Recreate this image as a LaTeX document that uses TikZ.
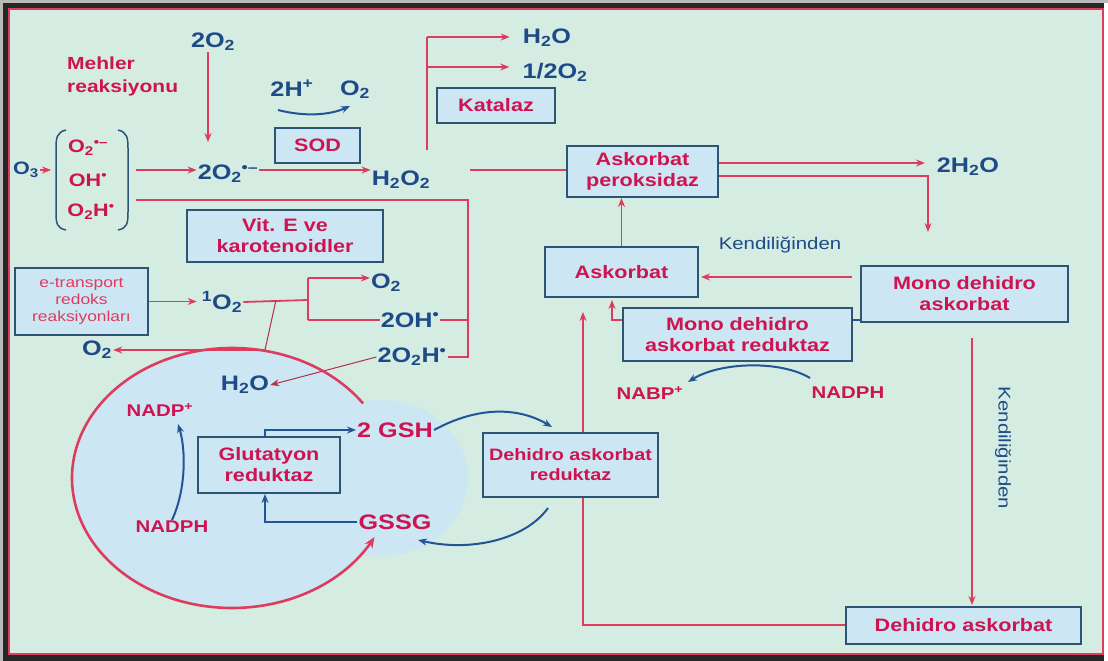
\documentclass[tikz,border=0pt]{standalone}
\usepackage{fontspec}
\setmainfont{Liberation Sans}[FakeStretch=1.2]
\usetikzlibrary{arrows.meta}
\newcommand\myfs[2]{\fontsize{#1}{#2}\selectfont}
\definecolor{bgc}{RGB}{212,236,226}
\definecolor{bfill}{RGB}{205,230,243}
\definecolor{bdraw}{RGB}{45,85,115}
\definecolor{tred}{RGB}{205,20,80}
\definecolor{lred}{RGB}{222,60,95}
\definecolor{tblue}{RGB}{30,75,135}
\definecolor{ablue}{RGB}{35,85,150}
\pgfdeclarelayer{back}
\pgfdeclarelayer{mid}
\pgfsetlayers{back,mid,main}
\begin{document}
\begin{tikzpicture}[x=1pt,y=-1pt,
  box/.style={draw=bdraw, line width=2pt, fill=bfill, text=tred, font=\bfseries\myfs{18}{21}, align=center, inner sep=0pt},
  fml/.style={text=tblue, font=\bfseries\myfs{21}{24}, inner sep=1pt},
  rlab/.style={text=tred, font=\bfseries\myfs{17}{20}, inner sep=1pt},
  rl/.style={draw=lred, line width=1.8pt},
  ra/.style={rl, -{Stealth[length=9pt,width=7pt]}},
  bl/.style={draw=ablue, line width=2pt},
  ba/.style={bl, -{Stealth[length=9pt,width=7pt]}},
  thinl/.style={draw=lred!80!black, line width=1pt},
  kend/.style={text=tblue, font=\myfs{17}{20}, inner sep=1pt}
]
\useasboundingbox (0,0) rectangle (1108,661);
\begin{pgfonlayer}{back}
\fill[white] (0,0) rectangle (1108,661);
\fill[black!85] (3,3) rectangle (1104,661);
\fill[gray!55] (0,0) rectangle (1108,3);
\fill[gray!55] (0,0) rectangle (3,661);
\fill[bgc] (9,9) rectangle (1103,654);
\draw[lred, line width=2pt] (9,9) rectangle (1103,654);
\fill[bfill] (380,478) ellipse [x radius=88, y radius=78];
\fill[bfill] (232,478) ellipse [x radius=160, y radius=130];
\end{pgfonlayer}

% ---- nodes ----
\node[fml] (o2top) at (213,42) {2O\textsubscript{2}};
\node[rlab, anchor=west, align=left, font=\bfseries\myfs{17.5}{23}] (mehler) at (66,76) {Mehler\\reaksiyonu};
\node[fml] (hplus) at (292,88) {2H\textsuperscript{+}};
\node[fml] (o2sod) at (355,90) {O\textsubscript{2}};
\node[box, minimum width=85, minimum height=35] (sod) at (317.5,145.5) {SOD};
\node[fml, font=\bfseries\myfs{18}{20}] (o3) at (26,170) {O\textsubscript{3}};
\node[rlab, font=\bfseries\myfs{18}{20}] (rad1) at (88,148) {O\textsubscript{2}\textsuperscript{•–}};
\node[rlab, font=\bfseries\myfs{18}{20}] (rad2) at (88,180) {OH\textsuperscript{•}};
\node[rlab, font=\bfseries\myfs{18}{20}] (rad3) at (91,212) {O\textsubscript{2}H\textsuperscript{•}};
\node[fml] (o2rad) at (228,174) {2O\textsubscript{2}\textsuperscript{•–}};
\node[fml] (h2o2) at (401,180) {H\textsubscript{2}O\textsubscript{2}};
\node[fml] (h2oA) at (547,38) {H\textsubscript{2}O};
\node[fml] (halfo2) at (555,72) {1/2O\textsubscript{2}};
\node[box, minimum width=118, minimum height=35] (kat) at (496,105.5) {Katalaz};
\node[box, minimum width=151, minimum height=51] (apx) at (642.5,171.5) {Askorbat\\peroksidaz};
\node[fml] (h2oB) at (968,167) {2H\textsubscript{2}O};
\node[box, minimum width=153, minimum height=50] (asc) at (621.5,272) {Askorbat};
\node[kend] (kend1) at (780,245) {Kendiliğinden};
\node[box, minimum width=207, minimum height=56] (mda) at (964.5,294) {Mono dehidro\\askorbat};
\node[box, minimum width=229, minimum height=53] (mdar) at (737.5,334.5) {Mono dehidro\\askorbat reduktaz};
\node[rlab] (nabp) at (650,393) {NABP\textsuperscript{+}};
\node[rlab] (nadph1) at (848,393) {NADPH};
\node[kend, rotate=-90] (kend2) at (1003,448) {Kendiliğinden};
\node[box, minimum width=235, minimum height=37] (dha) at (963.5,625) {Dehidro askorbat};
\node[box, minimum width=175, minimum height=64, font=\bfseries\myfs{16.5}{20}] (dhar) at (570.5,465) {Dehidro askorbat\\reduktaz};
\node[box, minimum width=196, minimum height=52] (vite) at (285,236) {Vit. E ve\\karotenoidler};
\node[box, minimum width=133, minimum height=67, text=lred, font=\myfs{14.5}{17}] (etr) at (81.5,301.5) {e-transport\\redoks\\reaksiyonları};
\node[fml] (o2sing) at (222,302) {\textsuperscript{1}O\textsubscript{2}};
\node[fml] (o2b) at (386,283) {O\textsubscript{2}};
\node[fml] (oh) at (410,320) {2OH\textsuperscript{•}};
\node[fml] (o2h) at (412,357) {2O\textsubscript{2}H\textsuperscript{•}};
\node[fml] (o2c) at (97,350) {O\textsubscript{2}};
\node[fml] (h2oC) at (245,385) {H\textsubscript{2}O};
\node[rlab] (nadp) at (160,410) {NADP\textsuperscript{+}};
\node[rlab] (nadph2) at (172,527) {NADPH};
\node[box, minimum width=142, minimum height=56] (gr) at (269,465) {Glutatyon\\reduktaz};
\node[rlab, font=\bfseries\myfs{21}{24}] (gsh) at (395,430) {2 GSH};
\node[rlab, font=\bfseries\myfs{21}{24}] (gssg) at (395,522) {GSSG};

% named free ends / bends
\coordinate (brk) at (136,170);
\coordinate (brk2) at (136,200);
\coordinate (bendA) at (468,200);
\coordinate (bendB) at (468,357);
\coordinate (katA) at (427,150);
\coordinate (katB) at (427,37);
\coordinate (katC) at (427,67);
\coordinate (h2o2r) at (470,170);
\coordinate (apA) at (718,163);
\coordinate (apB) at (718,176);
\coordinate (apC) at (928,176);
\coordinate (apD) at (928,232);
\coordinate (apE) at (925,163);
\coordinate (spl) at (308,300);
\coordinate (splT) at (308,278);
\coordinate (splB) at (308,320);
\coordinate (circTop) at (265,350);
\coordinate (mdarL) at (612,320);

\begin{pgfonlayer}{mid}
% brackets round the radicals
\draw[bdraw, line width=1.5pt] (66,130) .. controls (57,132) and (56,138) .. (56,148) -- (56,212) .. controls (56,224) and (57,228) .. (66,230);
\draw[bdraw, line width=1.5pt] (118,130) .. controls (127,132) and (128,138) .. (128,148) -- (128,212) .. controls (128,224) and (127,228) .. (118,230);
% red connectors
\draw[ra] ([xshift=-5]o2top.south) -- ++(0,90);
\draw[ra] (o3.east) -- ++(11,0);
\draw[ra] (brk) -- (o2rad.west |- brk);
\draw[ra] (o2rad.east |- brk) -- (h2o2.west |- brk);
\draw[rl] (brk2) -- (bendA) -- (bendB) -- (o2h.east |- bendB);
\draw[rl] (oh.east) -- (oh.east -| bendA);
\draw[rl] (katA) -- (katB);
\draw[ra] (katB) -- ([xshift=-12]h2oA.west |- katB);
\draw[ra] (katC) -- ([xshift=-12]halfo2.west |- katC);
\draw[rl] (h2o2r) -- (apx.west |- h2o2r);
\draw[ra] (apA) -- (apE);
\draw[ra] (apB) -- (apC) -- (apD);
\draw[ra] (asc.north) -- (asc.north |- apx.south);
\draw[ra] ([xshift=-8]mda.west |- 0,277) -- ([xshift=2]asc.east |- 0,277);
\draw[bl, line width=1.2pt] (mdar.east |- 0,320) -- (mda.west |- 0,320);
\draw[ra, line width=1.1pt] (mdar.west |- mdarL) -- (mdarL) -- ([yshift=-2]mdarL |- asc.south);
\draw[ra] (972,338) -- (972,605);
\draw[ra] (dha.west) -- (583,625) -- (583,312);
\draw[ra] (etr.east) -- ([xshift=-4]o2sing.west |- etr.east);
\draw[rl] (o2sing.east) -- (spl);
\draw[rl] (splT) -- (splB);
\draw[ra] (splT) -- (o2b.west |- splT);
\draw[rl] (splB) -- (oh.west |- splB);
\draw[thinl] (276,300) -- (circTop);
\draw[ra] (circTop) -- (o2c.east);
\draw[ra, thinl] (o2h.west) -- (h2oC.east);
% glutathione cycle
\draw[draw=lred, line width=2.6pt, -{Stealth[length=11pt,width=9pt]}] plot[domain=-35:-333, samples=150] ({232+160*cos(\x)},{478+130*sin(\x)});
% blue connectors
\draw[ba] (278,110) .. controls (305,117) and (330,115) .. (350,106);
\draw[ba] (gsh.east) .. controls (480,405) and (520,408) .. (552,427);
\draw[ba] (548,508) .. controls (525,540) and (470,552) .. (418,540);
\draw[ba] (810,378) .. controls (780,360) and (720,362) .. (688,382);
\draw[ba] (nadph2.north) .. controls (186,490) and (186,450) .. (178,424);
\draw[ba] (gssg.west) -| ([xshift=-4]gr.south);
\draw[ba] ([xshift=-4]gr.north) |- (gsh.west);
\end{pgfonlayer}
\end{tikzpicture}
\end{document}
